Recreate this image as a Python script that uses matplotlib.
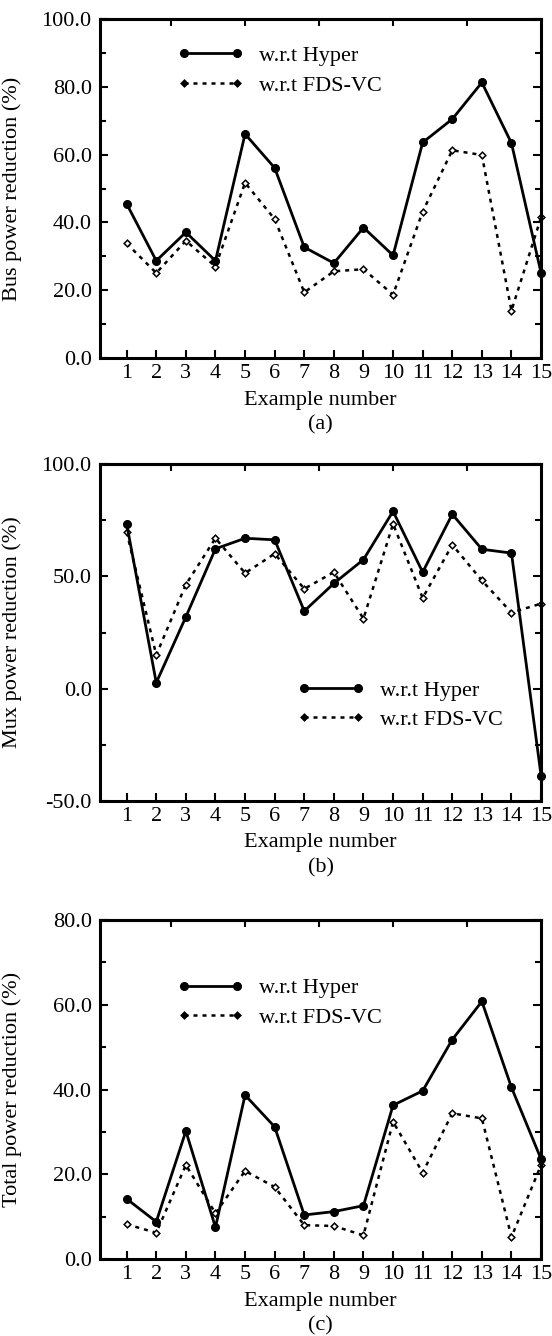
import matplotlib
matplotlib.use("Agg")
import matplotlib.pyplot as plt

plt.rcParams['font.family'] = ['Liberation Serif', 'DejaVu Serif']

examples = list(range(1, 16))

bus_hyper = [45.5, 28.7, 37.1, 28.7, 66.1, 56.1, 32.7, 28.0, 38.5, 30.3, 63.6, 70.5, 81.3, 63.4, 25.1]
bus_fds = [33.8, 25.1, 34.6, 27.0, 51.7, 41.0, 19.4, 25.6, 26.2, 18.7, 43.2, 61.3, 59.9, 14.0, 41.5]

mux_hyper = [73.4, 2.7, 32.0, 62.3, 67.0, 66.3, 34.6, 46.9, 57.5, 79.0, 51.9, 77.7, 62.1, 60.4, -38.7]
mux_fds = [69.7, 15.0, 46.4, 67.0, 51.5, 60.1, 44.5, 51.9, 31.2, 73.4, 40.4, 64.1, 48.2, 33.9, 37.9]

tot_hyper = [14.2, 8.8, 30.2, 7.5, 38.7, 31.2, 10.4, 11.2, 12.6, 36.3, 39.7, 51.8, 60.8, 40.5, 23.6]
tot_fds = [8.2, 6.2, 22.2, 10.8, 20.8, 17.0, 8.0, 7.8, 5.6, 32.4, 20.4, 34.4, 33.2, 5.2, 22.2]

legend_labels = ["w.r.t Hyper", "w.r.t FDS-VC"]

panels = [
    dict(h=bus_hyper, f=bus_fds, ylim=(0, 100), major=[0, 20, 40, 60, 80, 100],
         minor=[10, 30, 50, 70, 90], ylabel="Bus power reduction (%)", cap="(a)",
         rect=[0.1812, 0.7320, 0.7990, 0.2537], leg=(0.175, 0.922)),
    dict(h=mux_hyper, f=mux_fds, ylim=(-50, 100), major=[-50, 0, 50, 100],
         minor=[-25, 25, 75], ylabel="Mux power reduction (%)", cap="(b)",
         rect=[0.1812, 0.4004, 0.7990, 0.2522], leg=(0.448, 0.359)),
    dict(h=tot_hyper, f=tot_fds, ylim=(0, 80), major=[0, 20, 40, 60, 80],
         minor=[10, 30, 50, 70], ylabel="Total power reduction (%)", cap="(c)",
         rect=[0.1812, 0.0576, 0.7990, 0.2537], leg=(0.175, 0.83)),
]

fig = plt.figure(figsize=(5.52, 13.36), dpi=100)
FS = 16

for p in panels:
    ax = fig.add_axes(p["rect"])
    l1, = ax.plot(examples, p["h"], color="black", lw=2.0, marker="o", ms=5.5,
                  clip_on=False, zorder=3)
    l2, = ax.plot(examples, p["f"], color="black", lw=1.8, ls=(0, (1.6, 2.0)),
                  marker="D", ms=3.4, mfc="white", mec="black", mew=1.1,
                  clip_on=False, zorder=2)
    ax.set_xlim(0.1, 15.0)
    ax.set_ylim(*p["ylim"])
    ax.set_xticks(examples)
    ax.set_xticklabels([str(e) for e in examples])
    ax.set_yticks(p["major"])
    ax.set_yticklabels(["%.1f" % v for v in p["major"]])
    ax.set_yticks(p["minor"], minor=True)
    ax.tick_params(axis="both", which="both", direction="in", width=1.5,
                   labelsize=FS, right=True)
    ax.tick_params(axis="y", which="major", length=6, pad=6)
    ax.tick_params(axis="y", which="minor", length=4)
    ax.tick_params(axis="x", which="major", length=6, pad=4)
    for s in ax.spines.values():
        s.set_linewidth(2.2)
    sec = ax.secondary_xaxis("top")
    sec.set_xticks([2.5, 5.0, 7.5, 10.0, 12.5])
    sec.tick_params(direction="in", length=5, width=1.5, labeltop=False)
    sec.spines["top"].set_linewidth(2.2)

    ax.set_ylabel(p["ylabel"], fontsize=FS)
    ax.yaxis.set_label_coords(-0.178, 0.5)
    ax.set_xlabel("Example number", fontsize=FS)
    ax.xaxis.set_label_coords(0.5, -42 / 339)
    ax.xaxis.label.set_va("center")
    ax.text(0.5, -67 / 339, p["cap"], transform=ax.transAxes, ha="center",
            va="center", fontsize=FS)

    leg = ax.legend([l1, l2], legend_labels, loc="upper left", bbox_to_anchor=p["leg"],
                    frameon=False, fontsize=FS, handlelength=3.0, handletextpad=0.7,
                    borderpad=0, borderaxespad=0, labelspacing=0.4, numpoints=2)
    leg.legend_handles[1].set_markerfacecolor("black")

fig.savefig("out.png", dpi=100)
